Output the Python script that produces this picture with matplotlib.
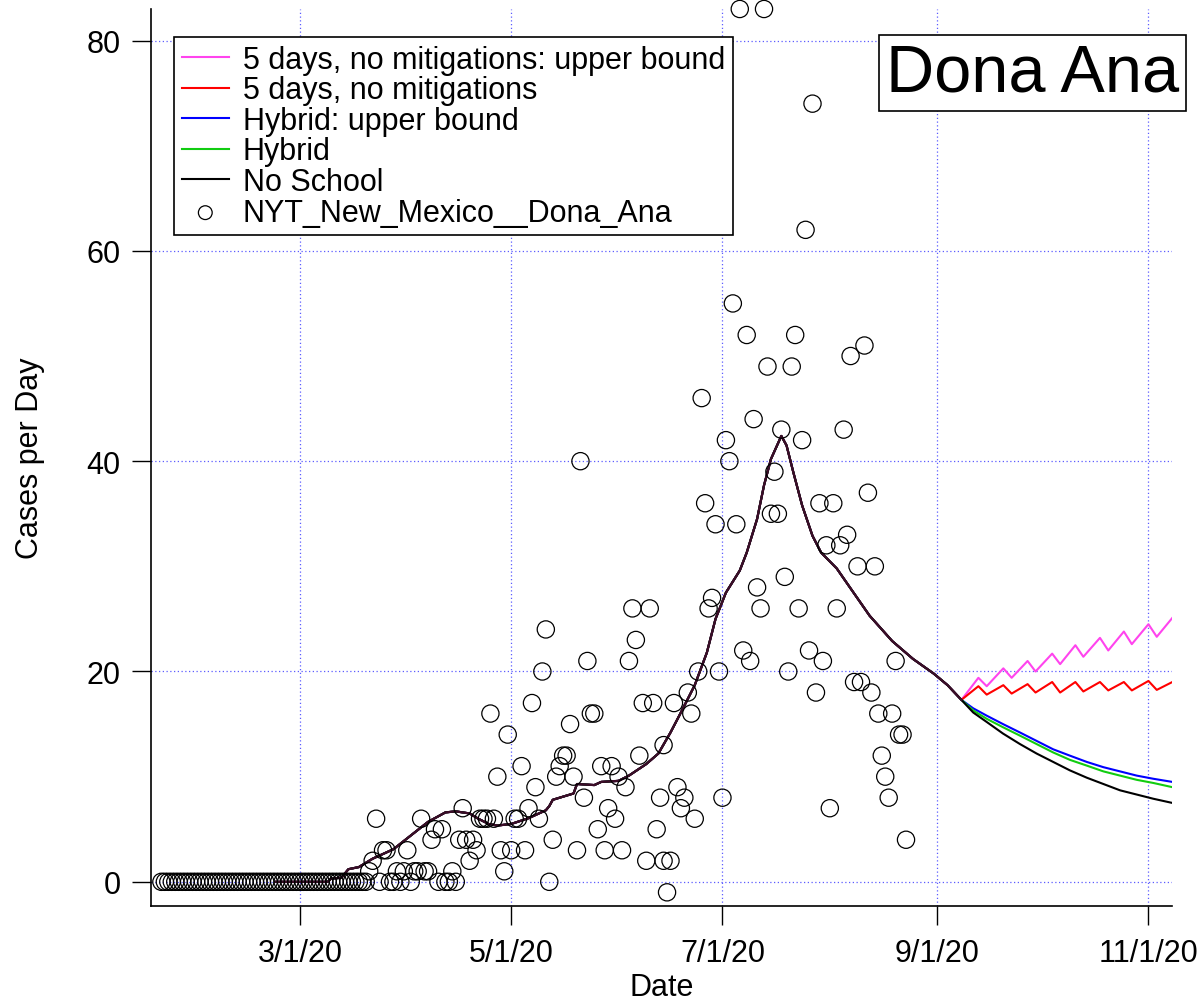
import numpy as np
import pandas as pd
import matplotlib
matplotlib.use("Agg")
import matplotlib.pyplot as plt

plt.rcParams["font.family"] = ["Liberation Sans", "DejaVu Sans"]

DAY0 = pd.Timestamp("2020-01-01")

# NYT daily cases, Dona Ana county; one value per day starting 2020-01-21
obs_start_day = 20
obs_cases = ([0] * 60 +
             [1, 2, 6, 0, 3, 3, 0, 0, 1, 0, 1, 3, 0, 1, 1, 6, 1, 1, 4, 5,
              0, 5, 0, 0, 1, 0, 4, 7, 4, 2, 4, 3, 6, 6, 6, 16, 6, 10, 3, 1,
              14, 3, 6, 6, 11, 3, 7, 17, 9, 6, 20, 24,
              0, 4, 10, 11, 12, 12, 15, 10, 3, 40, 8, 21, 16, 16, 5, 11, 3, 7, 11, 6,
              10, 3, 9, 21, 26, 23, 12, 17, 2, 26, 17, 5, 8, 2, -1, 2, 17, 9, 7, 8,
              18, 16, 6, 20,
              46, 36, 26, 27, 34, 20, 8, 42, 40, 55, 34, 83, 22, 52, 21, 44, 28, 26, 83, 49,
              35, 39, 35, 43, 29, 20, 49, 52, 26, 42, 62, 22, 74, 18, 36, 21, 32, 7, 36, 26,
              32, 43, 33, 50, 19, 30, 19, 51, 37, 18, 30, 16, 12, 10, 8, 16, 21, 14, 14, 4])
extra_day = [165]
extra_cases = [13]

# model history shared by all scenarios (days since 2020-01-01)
hist_day = [53, 68, 69, 72, 74, 77, 81, 83, 87, 92, 97, 102, 105, 109, 111.5, 114.5,
            117, 121, 126, 131, 132, 133, 139, 140, 145, 147, 152, 155, 160, 163.5,
            167, 170, 174, 177.5, 180, 183, 187, 189, 192, 194, 196, 199, 200.5,
            202.5, 205, 208, 210.5, 215, 219, 224.5, 231, 237, 243, 247, 251]
hist_cases = [0, 0, 0.3, 0.4, 1.2, 1.4, 2.2, 2.5, 3.1, 4.4, 5.7, 6.6, 6.7, 6.5, 6.0, 5.5,
              5.35, 5.5, 6.05, 6.8, 7.2, 7.8, 8.4, 9.3, 9.2, 9.5, 9.6, 10.1, 11.2, 12.2,
              14.2, 16.1, 18.7, 21.8, 25.0, 27.5, 29.6, 31.3, 34.5, 37.7, 40.2, 42.4, 41.5,
              38.9, 35.8, 32.9, 31.3, 29.8, 27.9, 25.3, 22.9, 21.2, 19.8, 18.7, 17.3]

# projections after school opening
smooth_day = [251, 254.4, 258.3, 263, 267.9, 272.7, 277.5, 282.3, 287.2, 292, 296.8,
              301.6, 306.4, 311.9]
no_school = [17.3, 16.1, 15.2, 14.1, 13.1, 12.2, 11.4, 10.6, 9.9, 9.3, 8.7, 8.3, 7.9, 7.5]
hybrid = [17.3, 16.3, 15.5, 14.7, 13.9, 13.1, 12.3, 11.6, 11.05, 10.5, 10.1, 9.7, 9.4, 9.0]
hybrid_upper = [17.3, 16.5, 15.8, 15.0, 14.2, 13.4, 12.6, 12.0, 11.4, 10.9, 10.5, 10.1,
                9.8, 9.5]

weekly_day = [251, 255.9, 258.3, 263.1, 265.5, 270.1, 272.4, 277.2, 279.5, 283.9,
              286.2, 291.0, 293.4, 297.9, 300.2, 305.0, 307.4, 311.9]
five_days = [17.3, 18.6, 17.8, 18.7, 17.9, 18.8, 18.0, 19.0, 18.0, 19.0,
             18.1, 19.0, 18.2, 19.0, 18.2, 19.1, 18.25, 19.0]
five_days_upper = [17.3, 19.4, 18.6, 20.3, 19.4, 21.0, 20.0, 21.7, 20.7, 22.5,
                   21.4, 23.2, 22.0, 23.8, 22.6, 24.5, 23.3, 25.1]

tick_days = [60, 121, 182, 244, 305]
tick_labels = ["3/1/20", "5/1/20", "7/1/20", "9/1/20", "11/1/20"]


def to_date(days):
    return DAY0 + pd.to_timedelta(np.asarray(days, dtype=float), unit="D")


fig = plt.figure(figsize=(12.01, 10.04), dpi=100)
ax = fig.add_axes([151 / 1201, 1 - 907 / 1004, 1021 / 1201, 897 / 1004])

scenarios = [
    ("5 days, no mitigations: upper bound", weekly_day, five_days_upper, "#ff44ee"),
    ("5 days, no mitigations", weekly_day, five_days, "#ff0000"),
    ("Hybrid: upper bound", smooth_day, hybrid_upper, "#0000ff"),
    ("Hybrid", smooth_day, hybrid, "#11cc11"),
    ("No School", smooth_day, no_school, "#000000"),
]
handles = []
for i, (label, days, vals, color) in enumerate(scenarios):
    d = hist_day + days[1:]
    v = hist_cases + vals[1:]
    h, = ax.plot(to_date(d), v, color=color, lw=1.5, label=label, zorder=2 + i * 0.1)
    handles.append(h)
# overlapping history drawn in the blended dark tone
ax.plot(to_date(hist_day), hist_cases, color="#3c0c28", lw=1.6, zorder=2.6)

obs_days = np.arange(obs_start_day, obs_start_day + len(obs_cases))
sc = ax.scatter(to_date(list(obs_days) + extra_day), obs_cases + extra_cases,
                s=12.4 ** 2, facecolors="none", edgecolors="black", linewidths=0.9,
                clip_on=False, zorder=3, label="NYT_New_Mexico__Dona_Ana")
handles.append(sc)

ax.set_xlim(to_date([17])[0], to_date([311.8])[0])
ax.set_ylim(-2.3, 83.0)
ax.set_xticks(to_date(tick_days))
ax.set_xticklabels(tick_labels)
ax.set_yticks([0, 20, 40, 60, 80])

ax.grid(True, color="#5c5cff", linestyle=(0, (1, 2)), linewidth=0.9)
ax.set_axisbelow(True)
for side in ["top", "right"]:
    ax.spines[side].set_visible(False)
for side in ["left", "bottom"]:
    ax.spines[side].set_linewidth(1.2)
ax.tick_params(axis="both", direction="out", length=14, width=1.0, labelsize=22)
ax.tick_params(axis="x", pad=9)
ax.tick_params(axis="y", pad=8)

ax.set_xlabel("Date", fontsize=22, labelpad=3)
ax.set_ylabel("Cases per Day", fontsize=22, labelpad=30)

leg = ax.legend(handles=handles, loc="upper left", bbox_to_anchor=(0.0225, 0.9688),
                borderaxespad=0, fontsize=22, frameon=True, fancybox=False,
                framealpha=1, edgecolor="black", handlelength=1.55, handletextpad=0.45,
                labelspacing=0.02, borderpad=0.25, markerscale=0.8)
leg.get_frame().set_linewidth(1.2)

fig.text(1032.5 / 1201, 1 - 74 / 1004, "Dona Ana", fontsize=48, ha="center", va="center",
         bbox=dict(boxstyle="square,pad=0.1", fc="white", ec="black", lw=1.2))

fig.savefig("out.png", dpi=100)
